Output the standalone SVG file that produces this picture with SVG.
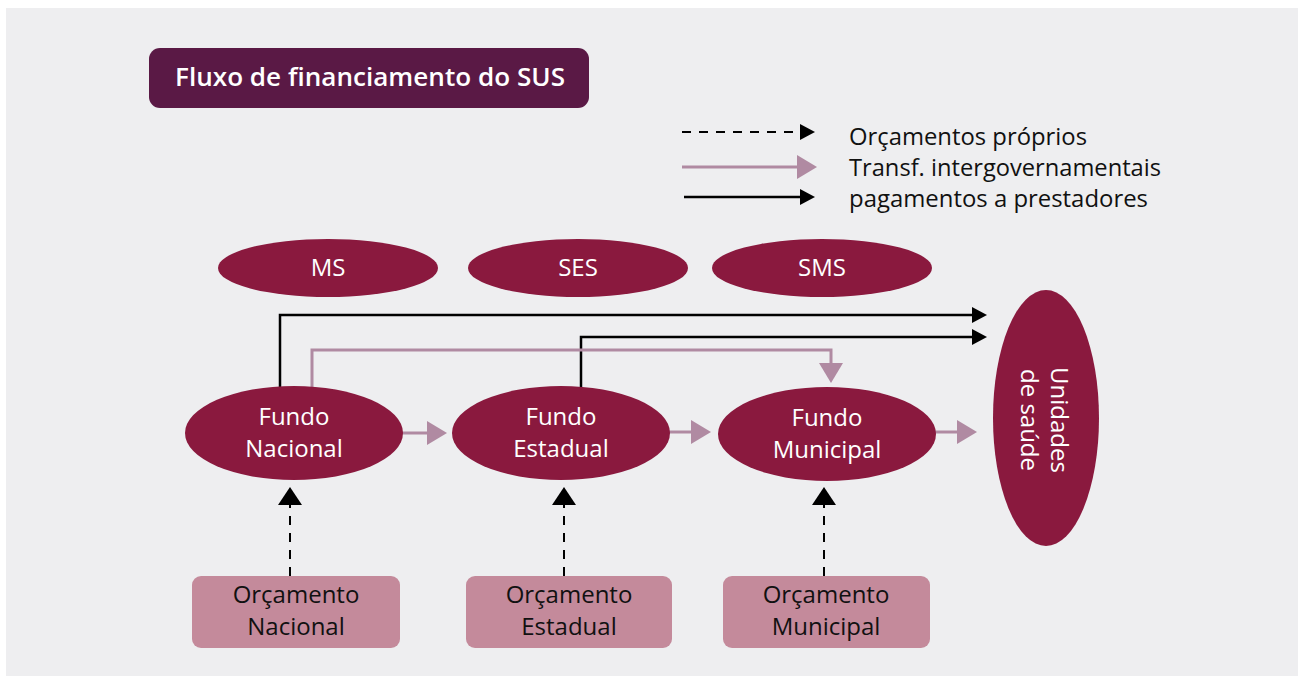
<svg xmlns="http://www.w3.org/2000/svg" width="1305" height="683" viewBox="0 0 1305 683">
<style>
.node{fill:#8a193e}
.ntxt{font-family:"Open Sans","Noto Sans",sans-serif;font-size:24px;fill:#ffffff;text-anchor:middle}
.btxt{font-family:"Open Sans","Noto Sans",sans-serif;font-size:24px;fill:#111111;text-anchor:middle}
.box{fill:#c48a9b}
.leg{font-family:"Open Sans","Noto Sans",sans-serif;font-size:23px;fill:#111111}
.pink{fill:none;stroke:#b08aa2;stroke-width:3}
.blk{fill:none;stroke:#000000;stroke-width:2.5}
.dash{fill:none;stroke:#000000;stroke-width:2;stroke-dasharray:9 8}
</style>
<defs>
<marker id="mPink" markerUnits="userSpaceOnUse" markerWidth="20" markerHeight="24" refX="0" refY="12" orient="auto" overflow="visible">
<path d="M0,0 L20,12 L0,24 Z" fill="#b08aa2" stroke="none"/>
</marker>
<marker id="mBlk" markerUnits="userSpaceOnUse" markerWidth="15" markerHeight="16" refX="0" refY="8" orient="auto" overflow="visible">
<path d="M0,0 L15,8 L0,16 Z" fill="#000000" stroke="none"/>
</marker>
<marker id="mBlkL" markerUnits="userSpaceOnUse" markerWidth="18" markerHeight="24" refX="0" refY="12" orient="auto" overflow="visible">
<path d="M0,0 L18,12 L0,24 Z" fill="#000000" stroke="none"/>
</marker>
</defs>
<rect x="0" y="0" width="1305" height="683" fill="#ffffff"/>
<rect x="6" y="8" width="1292" height="668" fill="#eeeef0"/>

<g id="title">
<rect x="149" y="48" width="440" height="60" rx="11" fill="#5a1945"/>
<text x="175" y="86" font-family="'Open Sans','Noto Sans',sans-serif" font-size="25" font-weight="600" fill="#ffffff" textLength="390" lengthAdjust="spacingAndGlyphs">Fluxo de financiamento do SUS</text>
</g>

<g id="legend">
<path class="dash" d="M682,132 H800" marker-end="url(#mBlk)"/>
<path class="pink" d="M682,167 H797" marker-end="url(#mPink)"/>
<path class="blk" d="M684,197 H800" marker-end="url(#mBlk)"/>
<text class="leg" x="849" y="145" textLength="238" lengthAdjust="spacingAndGlyphs">Orçamentos próprios</text>
<text class="leg" x="849" y="176" textLength="312" lengthAdjust="spacingAndGlyphs">Transf. intergovernamentais</text>
<text class="leg" x="849" y="207" textLength="299" lengthAdjust="spacingAndGlyphs">pagamentos a prestadores</text>
</g>

<g id="connectors">
<path class="blk" d="M280,392 V315 H972" marker-end="url(#mBlk)"/>
<path class="blk" d="M581,392 V337 H972" marker-end="url(#mBlk)"/>
<path class="pink" d="M312,392 V350 H831 V363" marker-end="url(#mPink)"/>
<path class="pink" d="M400,433 H427" marker-end="url(#mPink)"/>
<path class="pink" d="M667,432 H691" marker-end="url(#mPink)"/>
<path class="pink" d="M933,432 H957" marker-end="url(#mPink)"/>
<path class="dash" d="M290,576 V505" marker-end="url(#mBlkL)"/>
<path class="dash" d="M564,576 V505" marker-end="url(#mBlkL)"/>
<path class="dash" d="M824,576 V505" marker-end="url(#mBlkL)"/>
</g>

<g id="ms">
<ellipse class="node" cx="328" cy="268" rx="110" ry="29"/>
<text class="ntxt" x="328" y="276">MS</text>
</g>
<g id="ses">
<ellipse class="node" cx="578" cy="268" rx="110" ry="29"/>
<text class="ntxt" x="578" y="276">SES</text>
</g>
<g id="sms">
<ellipse class="node" cx="822" cy="268" rx="110" ry="29"/>
<text class="ntxt" x="822" y="276">SMS</text>
</g>

<g id="fundo-nacional">
<ellipse class="node" cx="294" cy="433" rx="109" ry="47"/>
<text class="ntxt" x="294" y="425">Fundo</text>
<text class="ntxt" x="294" y="457">Nacional</text>
</g>
<g id="fundo-estadual">
<ellipse class="node" cx="561" cy="433" rx="109" ry="47"/>
<text class="ntxt" x="561" y="425">Fundo</text>
<text class="ntxt" x="561" y="457">Estadual</text>
</g>
<g id="fundo-municipal">
<ellipse class="node" cx="827" cy="434" rx="109" ry="47"/>
<text class="ntxt" x="827" y="426">Fundo</text>
<text class="ntxt" x="827" y="458">Municipal</text>
</g>

<g id="unidades">
<ellipse class="node" cx="1046" cy="418" rx="53" ry="128"/>
<g transform="translate(1051,420) rotate(90)">
<text class="ntxt" x="0" y="0">Unidades</text>
<text class="ntxt" x="0" y="30">de saúde</text>
</g>
</g>

<g id="orc-nacional">
<rect class="box" x="192" y="576" width="208" height="72" rx="9"/>
<text class="btxt" x="296" y="603">Orçamento</text>
<text class="btxt" x="296" y="635">Nacional</text>
</g>
<g id="orc-estadual">
<rect class="box" x="466" y="576" width="206" height="72" rx="9"/>
<text class="btxt" x="569" y="603">Orçamento</text>
<text class="btxt" x="569" y="635">Estadual</text>
</g>
<g id="orc-municipal">
<rect class="box" x="723" y="576" width="207" height="72" rx="9"/>
<text class="btxt" x="826" y="603">Orçamento</text>
<text class="btxt" x="826" y="635">Municipal</text>
</g>
</svg>
